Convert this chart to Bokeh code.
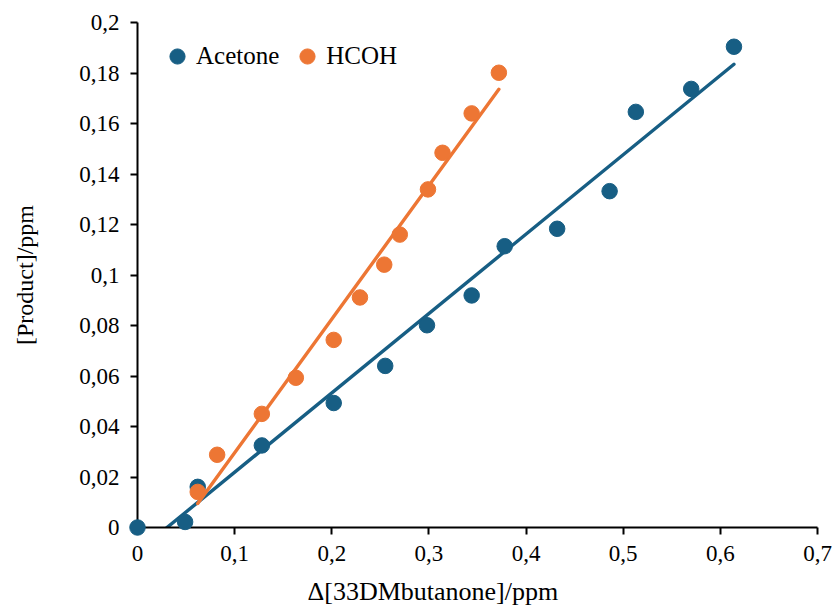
import numpy as np
from bokeh.plotting import figure
from bokeh.models import (ColumnDataSource, FixedTicker, CustomJSTickFormatter,
                          Legend, LegendItem, Title, Range1d)
from bokeh.embed import file_html
from bokeh.resources import INLINE

# ---- data ----
acetone_x = [0.0, 0.049, 0.062, 0.128, 0.202, 0.255, 0.298, 0.344, 0.378, 0.432, 0.486, 0.513, 0.570, 0.614]
acetone_y = [0.0, 0.0022, 0.0161, 0.0325, 0.0493, 0.0640, 0.0801, 0.0919, 0.1114, 0.1183, 0.1332, 0.1646, 0.1737, 0.1904]
hcoh_x = [0.062, 0.082, 0.128, 0.163, 0.202, 0.229, 0.254, 0.270, 0.299, 0.314, 0.344, 0.372]
hcoh_y = [0.0141, 0.0288, 0.0450, 0.0593, 0.0743, 0.0911, 0.1041, 0.1160, 0.1339, 0.1484, 0.1640, 0.1801]
x_ticks = [0, 0.1, 0.2, 0.3, 0.4, 0.5, 0.6, 0.7]
y_ticks = [0, 0.02, 0.04, 0.06, 0.08, 0.1, 0.12, 0.14, 0.16, 0.18, 0.2]
series_names = ["Acetone", "HCOH"]
series_colors = ["#175E84", "#ED7634"]
x_title = "Δ[33DMbutanone]/ppm"
y_title = "[Product]/ppm"

FONT = "'Liberation Serif', 'Times New Roman', 'DejaVu Serif', serif"

p = figure(width=837, height=616, output_backend="svg", toolbar_location=None,
           x_range=Range1d(0, 0.7), y_range=Range1d(0, 0.2),
           min_border_left=137, min_border_right=20, min_border_top=22, min_border_bottom=87)
p.outline_line_color = None
p.xgrid.visible = False
p.ygrid.visible = False
p.background_fill_color = "white"
p.border_fill_color = "white"

# trend lines (least squares from data, spanning each series' x range)
legend_items = []
for xs, ys, name, col in [(acetone_x, acetone_y, series_names[0], series_colors[0]),
                          (hcoh_x, hcoh_y, series_names[1], series_colors[1])]:
    m, b = np.polyfit(xs, ys, 1)
    lx = [min(xs), max(xs)]
    ly = [m * v + b for v in lx]
    p.line(lx, ly, line_color=col, line_width=3.4, line_cap="round")

for xs, ys, name, col in [(acetone_x, acetone_y, series_names[0], series_colors[0]),
                          (hcoh_x, hcoh_y, series_names[1], series_colors[1])]:
    src = ColumnDataSource(dict(x=xs, y=ys))
    r = p.scatter("x", "y", source=src, size=15.5, fill_color=col, line_color=col, level="overlay")
    legend_items.append(LegendItem(label=name, renderers=[r]))

legend = Legend(items=legend_items, orientation="horizontal", location=(21, 452),
                glyph_width=38, glyph_height=38, label_standoff=-9, spacing=9,
                padding=0, margin=0, border_line_color=None, background_fill_alpha=0,
                label_text_font=FONT, label_text_font_size="25px", label_text_color="black")
p.add_layout(legend)

for ax in (p.xaxis[0], p.yaxis[0]):
    ax.axis_line_color = "black"
    ax.axis_line_width = 2
    ax.major_tick_line_color = "black"
    ax.major_tick_line_width = 2
    ax.major_tick_out = 7
    ax.major_tick_in = 0
    ax.minor_tick_line_color = None
    ax.major_label_text_font = FONT
    ax.major_label_text_font_size = "23px"
    ax.major_label_text_color = "black"

p.xaxis.ticker = FixedTicker(ticks=x_ticks)
p.yaxis.ticker = FixedTicker(ticks=y_ticks)
p.xaxis.formatter = CustomJSTickFormatter(code="return String(Math.round(tick*10)/10).replace('.', ',');")
p.yaxis.formatter = CustomJSTickFormatter(code="return String(Math.round(tick*100)/100).replace('.', ',');")
p.xaxis.major_label_standoff = 11
p.yaxis.major_label_standoff = 11

p.yaxis.axis_label = y_title
p.yaxis.axis_label_text_font = FONT
p.yaxis.axis_label_text_font_size = "24px"
p.yaxis.axis_label_text_font_style = "normal"
p.yaxis.axis_label_text_color = "black"
p.yaxis.axis_label_standoff = 38

xt = Title(text=x_title, align="left", offset=170, standoff=22,
           text_font=FONT, text_font_size="26px", text_font_style="normal", text_color="black")
p.add_layout(xt, "below")

open("out.html", "w").write(file_html(p, INLINE))
